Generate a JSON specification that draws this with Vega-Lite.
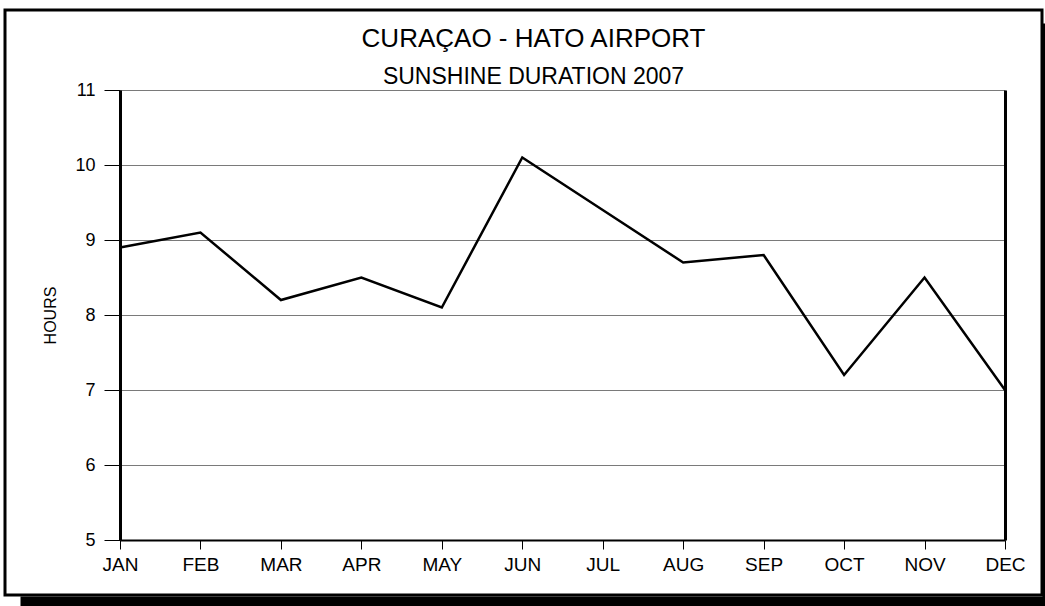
{
  "$schema": "https://vega.github.io/schema/vega-lite/v6.json",
  "width": 1037,
  "height": 585,
  "autosize": {"type": "none"},
  "padding": {"left": 5, "top": 10, "right": 3, "bottom": 11},
  "background": "white",
  "title": {
    "text": "CURAÇAO - HATO AIRPORT",
    "subtitle": "SUNSHINE DURATION 2007",
    "offset": -79,
    "dx": 10,
    "anchor": "middle",
    "font": "Liberation Sans",
    "fontSize": 26,
    "fontWeight": "normal",
    "color": "black",
    "subtitleFont": "Liberation Sans",
    "subtitleFontSize": 23,
    "subtitleColor": "black",
    "subtitlePadding": 14
  },
  "config": {
    "font": "Liberation Sans",
    "view": {"stroke": "black", "strokeWidth": 3, "fill": "white"},
    "axis": {
      "labelColor": "black",
      "titleColor": "black",
      "labelFont": "Liberation Sans",
      "titleFont": "Liberation Sans"
    }
  },
  "data": {
    "values": [
      {"month": "JAN", "hours": 8.9},
      {"month": "FEB", "hours": 9.1},
      {"month": "MAR", "hours": 8.2},
      {"month": "APR", "hours": 8.5},
      {"month": "MAY", "hours": 8.1},
      {"month": "JUN", "hours": 10.1},
      {"month": "JUL", "hours": 9.4},
      {"month": "AUG", "hours": 8.7},
      {"month": "SEP", "hours": 8.8},
      {"month": "OCT", "hours": 7.2},
      {"month": "NOV", "hours": 8.5},
      {"month": "DEC", "hours": 7.0}
    ]
  },
  "layer": [
    {
      "mark": {"type": "line", "color": "black", "strokeWidth": 2.5, "strokeJoin": "miter"},
      "encoding": {
        "x": {
          "field": "month", "type": "ordinal", "sort": null,
          "scale": {"type": "point", "padding": 0, "range": [115, 1000]},
          "axis": {
            "orient": "bottom", "offset": -55, "tickSize": 9, "labelPadding": 6,
            "domainWidth": 2, "domainColor": "black", "tickColor": "black", "tickWidth": 1,
            "grid": false, "title": null, "labelAngle": 0, "labelFontSize": 19
          }
        },
        "y": {
          "field": "hours", "type": "quantitative",
          "scale": {"domain": [5, 11], "range": [530, 80], "nice": false, "zero": false},
          "axis": {
            "orient": "left", "offset": -115, "values": [5, 6, 7, 8, 9, 10, 11],
            "tickSize": 16, "labelPadding": 9, "tickColor": "black", "tickWidth": 1,
            "domainWidth": 3, "domainColor": "black",
            "grid": true, "gridColor": "#7a7a7a", "gridWidth": 1,
            "title": "HOURS", "titleFontSize": 16, "titleFontWeight": "normal", "titlePadding": 16,
            "labelFontSize": 18
          }
        }
      }
    },
    {
      "mark": {"type": "point", "opacity": 0},
      "encoding": {
        "x": {
          "field": "month", "type": "ordinal", "sort": null,
          "scale": {"type": "point", "padding": 0, "range": [115, 1000]},
          "axis": null
        },
        "y": {
          "field": "hours", "type": "quantitative",
          "scale": {"domain": [5, 11], "range": [530, 80], "nice": false, "zero": false},
          "axis": {
            "orient": "right", "offset": -37, "labels": false, "ticks": false, "grid": false,
            "title": null, "domainWidth": 3, "domainColor": "black"
          }
        }
      }
    },
    {
      "mark": {"type": "point", "opacity": 0},
      "encoding": {
        "x": {
          "field": "month", "type": "ordinal", "sort": null,
          "scale": {"type": "point", "padding": 0, "range": [15, 1040]},
          "axis": {
            "orient": "bottom", "offset": 6, "labels": false, "ticks": false, "grid": false,
            "title": null, "domainWidth": 10, "domainColor": "black"
          }
        },
        "y": {
          "field": "hours", "type": "quantitative",
          "scale": {"domain": [5, 11], "range": [596, 13], "nice": false, "zero": false},
          "axis": {
            "orient": "right", "offset": 1.5, "labels": false, "ticks": false, "grid": false,
            "title": null, "domainWidth": 3, "domainColor": "black"
          }
        }
      }
    }
  ],
  "resolve": {
    "scale": {"x": "independent", "y": "independent"},
    "axis": {"x": "independent", "y": "independent"}
  }
}
